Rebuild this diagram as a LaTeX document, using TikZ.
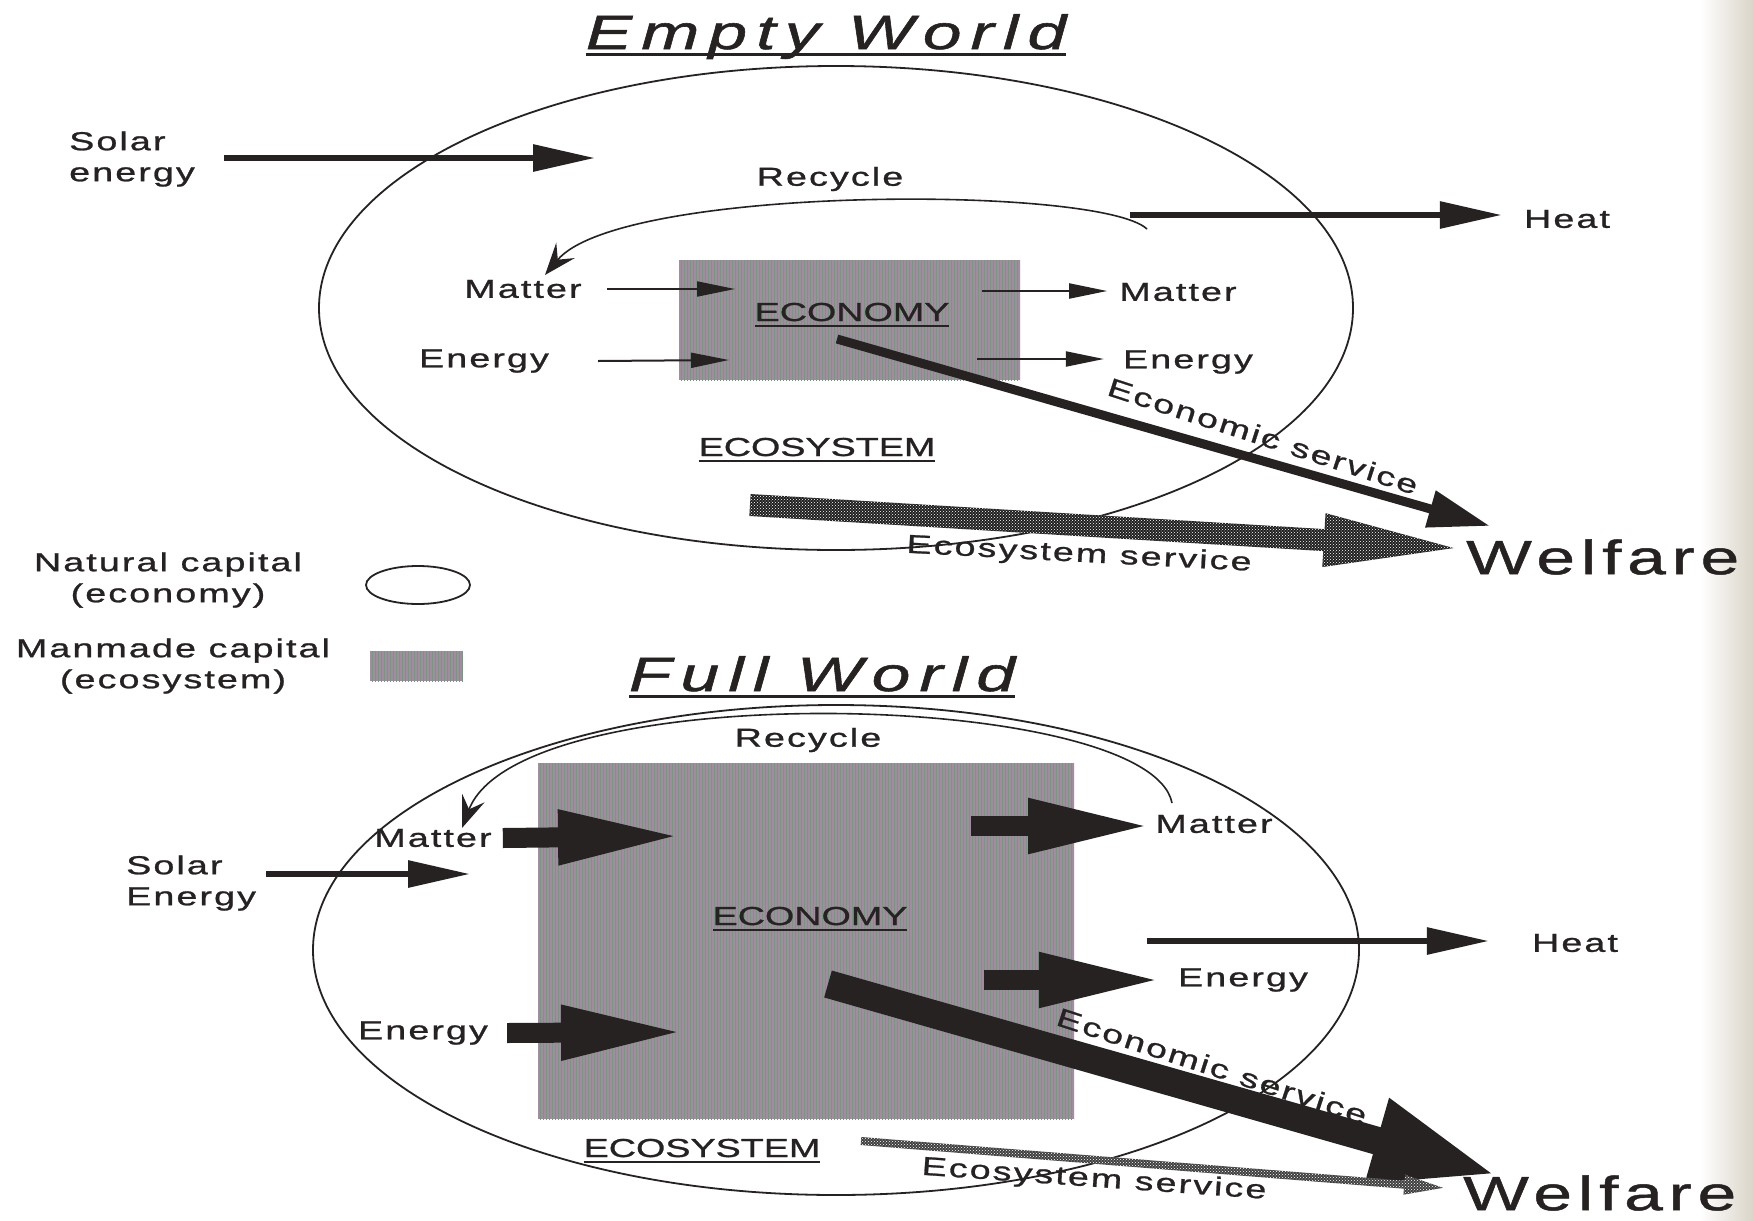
\documentclass[tikz,border=0pt]{standalone}
\usepackage{fontspec}
\setmainfont{Liberation Sans}
\newfontfamily\lblfont[FakeStretch=1.45,LetterSpace=8,FakeBold=1]{Liberation Sans}
\newfontfamily\capfont[FakeStretch=1.45,FakeBold=1]{Liberation Sans}
\newfontfamily\ttlfont[FakeStretch=1.45,LetterSpace=19,FakeBold=1.2]{Liberation Sans}
\newfontfamily\welfont[FakeStretch=1.45,LetterSpace=12,FakeBold=1]{Liberation Sans}
\usetikzlibrary{arrows.meta,patterns,shapes.geometric}
\definecolor{ink}{RGB}{38,34,34}
\definecolor{econfill}{RGB}{160,142,158}
\definecolor{econline}{RGB}{120,150,130}
\definecolor{stripbg}{RGB}{218,212,200}
\newsavebox{\ulsave}
\newcommand{\ulbox}[3]{\sbox\ulsave{#3}\rlap{\rule[#1]{\wd\ulsave}{#2}}\usebox\ulsave}

\begin{document}
\begin{tikzpicture}[x=1pt,y=-1pt,
	lbl/.style={font=\lblfont\fontsize{26}{31}\selectfont,inner sep=0pt,text=ink},
	capt/.style={font=\capfont\fontsize{26}{31}\selectfont,inner sep=0pt,text=ink,anchor=base},
	ttl/.style={font=\ttlfont\itshape\fontsize{48}{56}\selectfont,inner sep=0pt,anchor=base,text=ink},
	wel/.style={font=\welfont\fontsize{48}{54}\selectfont,inner sep=0pt,anchor=west,text=ink},
	world/.style={ellipse,draw=ink,line width=1.8,inner sep=0pt},
	econbox/.style={rectangle,draw=none,fill=econfill,postaction={pattern=vertical lines,pattern color=econline},inner sep=0pt},
	thinarr/.style={draw=ink,line width=2,-{Triangle[length=38pt,width=15pt]}},
	solararr/.style={draw=ink,line width=6,-{Triangle[length=62pt,width=26pt]}},
	recarr/.style={draw=ink,line width=1.6,-{Stealth[length=32pt,width=24pt,inset=12pt]}},
	blockarr/.style={draw=ink,line width=20,-{Triangle[length=124pt,width=50pt]}},
	svcarr/.style={draw=ink,line width=9,-{Triangle[length=62pt,width=36pt]}},
	bigsvcarr/.style={draw=ink,line width=28,-{Triangle[length=125pt,width=80pt]}},
	speckle/.style={fill=black!88,postaction={pattern=crosshatch dots,pattern color=white}},
	fadespeckle/.style={fill=black!75,postaction={pattern=crosshatch dots,pattern color=white}}
	]
	\useasboundingbox (0,0) rectangle (1754,1221);
	\fill[white] (0,0) rectangle (1754,1221);
	\shade[left color=white,right color=stripbg] (1700,0) rectangle (1754,1221);
	
	%%% Empty world
	\node[ttl] (ttlEmpty) at (826,49) {\ulbox{-7pt}{3.5pt}{Empty World}};
	\node[world,minimum width=1034pt,minimum height=484pt] (ecoT) at (836,308) {};
	\node[econbox,minimum width=341pt,minimum height=120pt] (econT) at (849.5,320) {};
	
	% Text Node
	\node[capt] (econTlbl) at (852,321) {\ulbox{-6pt}{2.5pt}{ECONOMY}};
	\node[capt] (ecoTlbl) at (817,456) {\ulbox{-6pt}{2.5pt}{ECOSYSTEM}};
	\node[lbl,anchor=west,align=left] (solarT) at (69,159) {Solar\\energy};
	\node[lbl] (recycleT) at (830,179) {Recycle};
	\node[lbl] (heatT) at (1567,219) {Heat};
	\node[lbl] (matterTL) at (523,289) {Matter};
	\node[lbl] (energyTL) at (484,361) {Energy};
	\node[lbl] (matterTR) at (1178,292) {Matter};
	\node[lbl] (energyTR) at (1188,362) {Energy};
	\node[lbl,rotate=-18] (esvTlbl) at (1263,436) {Economic service};
	\node[lbl,rotate=-3] (essTlbl) at (1079,555) {Ecosystem service};
	\node[wel] (welT) at (1466,557) {Welfare};
	
	\coordinate (solarT0) at (224,158);
	\coordinate (solarT1) at (595,158);
	\coordinate (heatT0) at (1130,215);
	\coordinate (recT0) at (1147,229);
	\coordinate (recT1) at (545,275);
	\coordinate (mTL1) at (735,289);
	\coordinate (eTL1) at (729,360);
	\coordinate (mTR0) at (982,291);
	\coordinate (eTR0) at (977,359);
	\coordinate (esvT0) at (837,339);
	\coordinate (esvT1) at (1490,526);
	\coordinate (essT0) at (750,505);
	
	% Connection
	\draw[solararr] (solarT0) -- (solarT1);
	\draw[solararr,shorten >=22pt] (heatT0) -- (heatT0 -| heatT.west);
	\draw[recarr] (recT0) .. controls (1100,185) and (620,185) .. (recT1);
	\draw[thinarr] ([xshift=25pt]matterTL.east) -- (mTL1);
	\draw[thinarr] ([xshift=49pt]energyTL.east) -- (eTL1);
	\draw[thinarr,shorten >=12pt] (mTR0) -- (mTR0 -| matterTR.west);
	\draw[thinarr,shorten >=19pt] (eTR0) -- (eTR0 -| energyTR.west);
	\draw[svcarr] (esvT0) -- (esvT1);
	% ecosystem service band
	\begin{scope}[shift={(essT0)},rotate=-3.5]
		\path[speckle] (0,-11) -- (575,-11) -- (575,-27) -- (705,0) -- (575,27) -- (575,11) -- (0,11) -- cycle;
	\end{scope}
	
	%%% legend
	\node[lbl,align=center] (natLbl) at (168,580) {Natural capital\\(economy)};
	\node[world,minimum width=104pt,minimum height=38pt] (natKey) at (418,585) {};
	\node[lbl,align=center] (manLbl) at (173,666) {Manmade capital\\(ecosystem)};
	\node[econbox,minimum width=93pt,minimum height=30pt] (manKey) at (416.5,666) {};
	
	%%% Full world
	\node[ttl] (ttlFull) at (822,691) {\ulbox{-7pt}{3.5pt}{Full World}};
	\node[world,minimum width=1046pt,minimum height=490pt] (ecoB) at (836,950) {};
	\node[econbox,minimum width=536pt,minimum height=356pt] (econB) at (806,941) {};
	
	% Text Node
	\node[capt] (econBlbl) at (810,925) {\ulbox{-6pt}{2.5pt}{ECONOMY}};
	\node[capt] (ecoBlbl) at (702,1157) {\ulbox{-6pt}{2.5pt}{ECOSYSTEM}};
	\node[lbl] (recycleB) at (808,740) {Recycle};
	\node[lbl,anchor=west,align=left] (solarB) at (126,883) {Solar\\Energy};
	\node[lbl] (matterBL) at (433,838) {Matter};
	\node[lbl] (matterBR) at (1214,824) {Matter};
	\node[lbl] (heatB) at (1575,943) {Heat};
	\node[lbl] (energyBR) at (1243,980) {Energy};
	\node[lbl] (energyBL) at (423,1033) {Energy};
	\node[lbl,rotate=-18] (esvBlbl) at (1212,1066) {Economic service};
	\node[lbl,rotate=-4] (essBlbl) at (1094,1180) {Ecosystem service};
	\node[wel] (welB) at (1463,1193) {Welfare};
	
	\coordinate (recB0) at (1172,803);
	\coordinate (recB1) at (462,828);
	\coordinate (solarB0) at (266,874);
	\coordinate (solarB1) at (470,874);
	\coordinate (mBL1) at (682,836);
	\coordinate (mBR0) at (971,826);
	\coordinate (heatB0) at (1147,941);
	\coordinate (eBR0) at (984,980);
	\coordinate (eBL1) at (685,1032);
	\coordinate (esvB0) at (828,984);
	\coordinate (esvB1) at (1497,1175);
	\coordinate (essB0) at (861,1141);
	
	% Connection
	\draw[recarr] (recB0) .. controls (1150,690) and (520,675) .. (recB1);
	\draw[solararr] (solarB0) -- (solarB1);
	\draw[blockarr] ([xshift=11pt]matterBL.east) -- (mBL1);
	\draw[blockarr,shorten >=3pt] (mBR0) -- (mBR0 -| matterBR.west);
	\draw[solararr,shorten >=43pt] (heatB0) -- (heatB0 -| heatB.west);
	\draw[blockarr,shorten >=15pt] (eBR0) -- (eBR0 -| energyBR.west);
	\draw[blockarr] ([xshift=19pt]energyBL.east) -- (eBL1);
	\draw[bigsvcarr] (esvB0) -- (esvB1);
	% ecosystem service band
	\begin{scope}[shift={(essB0)},rotate=-4.6]
		\path[fadespeckle] (0,-4) -- (545,-4) -- (545,-10) -- (584,0) -- (545,10) -- (545,4) -- (0,4) -- cycle;
	\end{scope}
	
\end{tikzpicture}
\end{document}
